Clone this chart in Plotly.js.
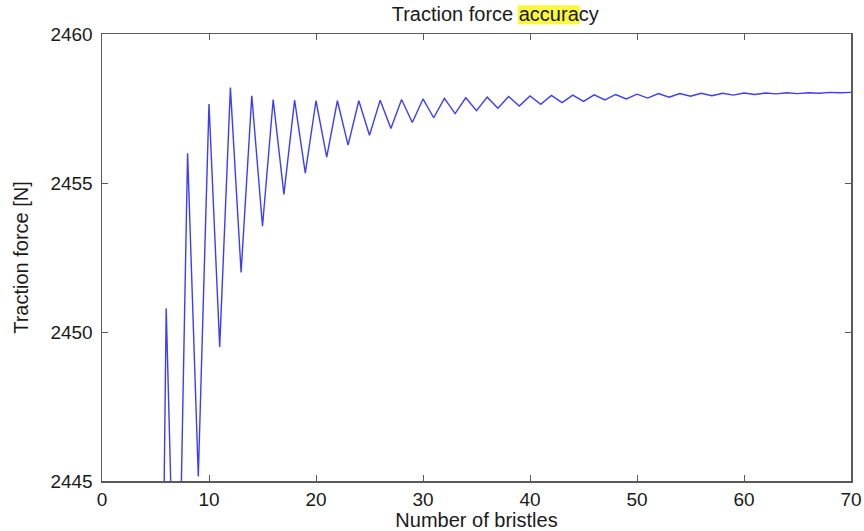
<!DOCTYPE html>
<html>
<head>
<meta charset="utf-8">
<script src="https://cdn.plot.ly/plotly-3.0.1.min.js"></script>
<style>html,body{margin:0;padding:0;background:#fff;}#chart{width:864px;height:531px;}</style>
</head>
<body>
<div id="chart"></div>
<script>
// Number of bristles
const bristles = [5,6,7,8,9,10,11,12,13,14,15,16,17,18,19,20,21,22,23,24,25,26,27,28,29,30,
  31,32,33,34,35,36,37,38,39,40,41,42,43,44,45,46,47,48,49,50,
  51,52,53,54,55,56,57,58,59,60,61,62,63,64,65,66,67,68,69,70];
// Traction force [N]
const tractionForce = [2420,2450.8,2437,2456.0,2445.15,2457.65,2449.5,2458.2,2452.0,2457.93,2453.55,
  2457.8,2454.62,2457.78,2455.33,2457.76,2455.87,2457.76,2456.27,2457.76,2456.6,
  2457.78,2456.83,2457.8,2457.03,2457.82,2457.19,2457.84,2457.33,2457.86,2457.43,
  2457.88,2457.51,2457.9,2457.58,2457.92,2457.64,2457.94,2457.7,2457.95,2457.74,
  2457.96,2457.79,2457.97,2457.82,2457.98,2457.85,2458.0,2457.88,2458.0,2457.91,
  2458.01,2457.93,2458.01,2457.95,2458.02,2457.97,2458.02,2457.99,2458.03,2458.0,
  2458.03,2458.01,2458.04,2458.03,2458.04];
const xTicks = [0,10,20,30,40,50,60,70];
const yTicks = [2445,2450,2455,2460];
const titleText = 'Traction force accuracy';
const highlightWord = 'accura';

const FONT = '"Liberation Sans", Arial, Helvetica, sans-serif';
const M = {l:102, r:13, t:34, b:50};
const W = 864, H = 531;
const axisCommon = {
  showline:true, linecolor:'#5a5a5a', linewidth:1.5, mirror:'ticks',
  ticks:'inside', ticklen:6, tickwidth:1, tickcolor:'#5a5a5a',
  showgrid:false, zeroline:false,
  tickfont:{family:FONT, size:19, color:'#1a1a1a'}
};
const layout = {
  width:W, height:H, margin:M,
  paper_bgcolor:'#fff', plot_bgcolor:'#fff',
  showlegend:false,
  title:{text:titleText, font:{family:FONT, size:20, color:'#1a1a1a'},
         xref:'paper', x:0.525, xanchor:'center', yref:'container', y:0.973, yanchor:'middle'},
  xaxis:Object.assign({}, axisCommon, {range:[0,70], tickvals:xTicks, ticktext:xTicks.map(String),
         ticklabelstandoff:1,
         title:{text:'Number of bristles', font:{family:FONT, size:20, color:'#1a1a1a'}, standoff:0}}),
  yaxis:Object.assign({}, axisCommon, {range:[2445,2460], tickvals:yTicks, ticktext:yTicks.map(String),
         ticklabelstandoff:4,
         title:{text:'Traction force [N]', font:{family:FONT, size:20, color:'#1a1a1a'}, standoff:16}})
};
const trace = {x:bristles, y:tractionForce, type:'scatter', mode:'lines',
  line:{color:'#3c3cff', width:1.4}, cliponaxis:true};

Plotly.newPlot('chart', [trace], layout, {displayModeBar:false, staticPlot:true}).then(gd => {
  try {
    const t = gd.querySelector('.gtitle');
    const full = t.textContent;
    const i = full.indexOf(highlightWord);
    if (i < 0) return;
    const a = t.getExtentOfChar(i);
    const b = t.getExtentOfChar(i + highlightWord.length - 1);
    const bb = t.getBBox();
    const pw = W - M.l - M.r, ph = H - M.t - M.b;
    const px0 = a.x - 1, px1 = b.x + b.width + 1;
    const py0 = bb.y + 2, py1 = bb.y + bb.height - 1;
    Plotly.relayout(gd, {shapes:[{type:'rect', layer:'below', xref:'paper', yref:'paper',
      x0:(px0 - M.l)/pw, x1:(px1 - M.l)/pw,
      y0:(H - M.b - py1)/ph, y1:(H - M.b - py0)/ph,
      fillcolor:'rgb(250,248,60)', line:{width:0}}]});
  } catch (e) {}
});
</script>
</body>
</html>
